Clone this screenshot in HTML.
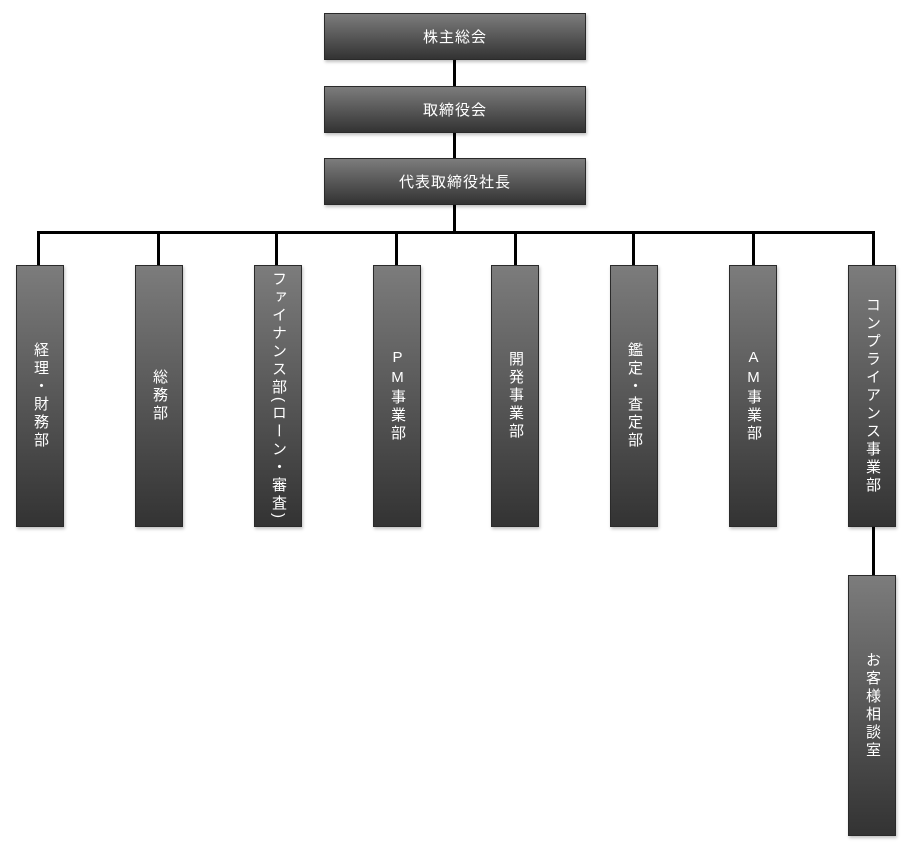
<!DOCTYPE html>
<html><head><meta charset="utf-8"><style>
body{margin:0;background:#fff;width:915px;height:853px;position:relative;overflow:hidden;font-family:"Liberation Sans","Noto Sans CJK JP",sans-serif;}
.b{position:absolute;background:linear-gradient(#7c7c7c,#333);border:1px solid #2a2a2a;box-sizing:border-box;box-shadow:1px 2px 3px rgba(0,0,0,.25);color:#fff;display:flex;align-items:center;justify-content:center;}
.h{left:324px;width:262px;height:47px;font-size:15px;letter-spacing:1px;}
.v{width:48px;height:262px;top:265px;}
.v span{writing-mode:vertical-rl;text-orientation:mixed;font-size:15px;line-height:18px;letter-spacing:3px;}
.l{position:absolute;background:#000;}
</style></head><body>
<div class="l" style="left:453px;top:59px;width:3px;height:100px"></div>
<div class="l" style="left:453px;top:204px;width:3px;height:30px"></div>
<div class="l" style="left:37px;top:231px;width:838px;height:3px"></div>
<div class="l" style="left:37px;top:231px;width:3px;height:35px"></div>
<div class="l" style="left:157px;top:231px;width:3px;height:35px"></div>
<div class="l" style="left:275px;top:231px;width:3px;height:35px"></div>
<div class="l" style="left:395px;top:231px;width:3px;height:35px"></div>
<div class="l" style="left:514px;top:231px;width:3px;height:35px"></div>
<div class="l" style="left:632px;top:231px;width:3px;height:35px"></div>
<div class="l" style="left:752px;top:231px;width:3px;height:35px"></div>
<div class="l" style="left:872px;top:231px;width:3px;height:35px"></div>
<div class="l" style="left:872px;top:526px;width:3px;height:50px"></div>
<div class="b h" style="top:13px">株主総会</div>
<div class="b h" style="top:86px">取締役会</div>
<div class="b h" style="top:158px">代表取締役社長</div>
<div class="b v" style="left:16px"><span>経理・財務部</span></div>
<div class="b v" style="left:135px"><span>総務部</span></div>
<div class="b v" style="left:254px"><span>ファイナンス部(ローン・審査)</span></div>
<div class="b v" style="left:373px"><span style="text-orientation:upright">PM事業部</span></div>
<div class="b v" style="left:491px"><span>開発事業部</span></div>
<div class="b v" style="left:610px"><span>鑑定・査定部</span></div>
<div class="b v" style="left:729px"><span style="text-orientation:upright">AM事業部</span></div>
<div class="b v" style="left:848px"><span>コンプライアンス事業部</span></div>
<div class="b v" style="left:848px;top:575px;height:261px"><span>お客様相談室</span></div>
</body></html>
